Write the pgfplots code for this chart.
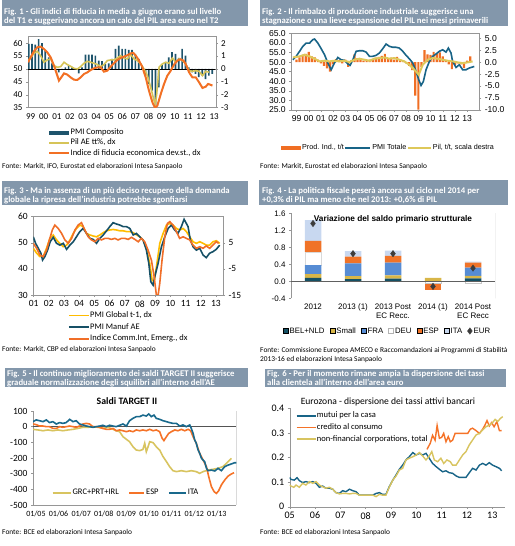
\documentclass[border=0pt]{standalone}
\usepackage{fontspec}
\setmainfont{Carlito}
\newfontfamily\arial{Liberation Sans}
\usepackage{pgfplots}
\pgfplotsset{compat=1.18}

\definecolor{titlebar}{RGB}{131,151,171}
\definecolor{axgray}{RGB}{150,150,150}
\definecolor{cA}{RGB}{30,84,108}
\definecolor{cAy}{RGB}{214,196,88}
\definecolor{cAo}{RGB}{242,112,36}
\definecolor{cBb}{RGB}{24,100,135}
\definecolor{cBo}{RGB}{240,110,35}
\definecolor{cBy}{RGB}{222,200,90}
\definecolor{cCy}{RGB}{255,188,0}
\definecolor{cCb}{RGB}{22,80,102}
\definecolor{cCo}{RGB}{240,110,40}
\definecolor{cDbel}{RGB}{20,80,100}
\definecolor{cDsml}{RGB}{216,182,72}
\definecolor{cDfra}{RGB}{86,140,212}
\definecolor{cDdeu}{RGB}{255,255,255}
\definecolor{cDesp}{RGB}{240,115,40}
\definecolor{cDita}{RGB}{200,216,240}
\definecolor{cDeur}{RGB}{60,60,60}
\definecolor{cEy}{RGB}{216,196,96}
\definecolor{cEo}{RGB}{245,115,40}
\definecolor{cEb}{RGB}{25,105,140}

\newcommand\tickf{\fontsize{9}{10}\selectfont}
\newcommand\legf{\fontsize{8.5}{9}\selectfont}
\newcommand\srcf{\fontsize{7.4}{8}\selectfont}
\newcommand\ttf{\fontsize{8.7}{9}\selectfont\bfseries}

\pgfplotsset{
  base/.style={scale only axis, anchor=south west,
    /pgf/number format/assume math mode=true,
    tick style={axgray, line width=0.4pt}, major tick length=2pt,
    tick align=outside,
    tick label style={font=\tickf},
    legend cell align=left,
    legend style={draw=none, fill=none, inner sep=0pt, outer sep=0pt,
      nodes={inner sep=0.6pt, text height=5.5pt, text depth=1.5pt}},
  },
  linelegend/.style={legend image code/.code={\draw[##1] (0pt,0pt) -- (#1,0pt);}},
  barlegend/.style={legend image code/.code={\fill[##1,draw=none] (0pt,-2pt) rectangle (#1,2pt);}},
  sqlegend/.style={legend image code/.code={\draw[##1] (0pt,-2.4pt) rectangle (4.8pt,2.4pt);}},
  marklegend/.style={legend image code/.code={\draw[##1] plot coordinates {(2.8pt,0pt)};}},
}
\tikzset{tt/.style={anchor=base west, inner sep=0pt, text=white, font=\ttf},
  src/.style={anchor=base west, inner sep=0pt, font=\srcf}}

\begin{document}
\begin{tikzpicture}[x=1pt,y=1pt]
\path[use as bounding box] (0,0) rectangle (514,546);

% ================= Fig. 1 =================
\fill[titlebar] (2,520) rectangle (248,546);
\node[tt] at (4,531.3) {Fig. 1 - Gli indici di fiducia in media a giugno erano sul livello};
\node[tt] at (4,522) {del T1 e suggerivano ancora un calo del PIL area euro nel T2};
\node[src] at (2,377) {Fonte: Markit, IFO, Eurostat ed elaborazioni Intesa Sanpaolo};

\begin{axis}[base, at={(28pt,438.3pt)}, width=187.7pt, height=71pt,
  xmin=1999.3, xmax=2013.62, ymin=35, ymax=62.5,
  ytick={35,40,...,60}, ytick pos=left, xtick pos=bottom,
  xtick={1999.5,2000.5,...,2013.5},
  xticklabels={99,00,01,02,03,04,05,06,07,08,09,10,11,12,13},
  x tick style={draw=none}, axis line style={axgray}]
\end{axis}

\begin{axis}[base, at={(28pt,438.3pt)}, width=187.7pt, height=71pt,
  xmin=1999.3, xmax=2013.62, ymin=-3, ymax=2.5,
  axis x line=none, axis y line*=right, ytick={-3,...,2},
  y axis line style={axgray},
  linelegend=20pt,
  legend style={at={(rel axis cs:0.1066,-0.293)}, anchor=north west, font=\legf,
    row sep=2.1pt}]
\addplot[ybar, bar width=1.7pt, fill=cA, draw=none, barlegend=20pt]
  table[x=t, y expr=(\thisrow{v}-50)/5] {
t v
1999.35 59.7
1999.60 59.7
1999.86 59.4
2000.11 61.6
2000.37 60.0
2000.62 57.1
2000.88 54.5
2001.13 52.2
2001.39 50.6
2001.64 48.7
2001.90 49.8
2002.15 50.6
2002.40 51.3
2002.66 50.6
2002.91 50.2
2003.17 48.3
2003.42 50.6
2003.68 55.6
2003.93 55.6
2004.19 55.6
2004.44 55.2
2004.69 53.2
2004.95 53.0
2005.20 51.9
2005.46 52.2
2005.71 53.9
2005.97 57.8
2006.22 59.0
2006.48 57.8
2006.73 57.8
2006.99 57.4
2007.24 57.4
2007.49 55.8
2007.75 53.9
2008.00 51.3
2008.26 47.4
2008.51 44.2
2008.77 41.6
2009.02 36.0
2009.28 42.9
2009.53 51.7
2009.79 52.6
2010.04 54.5
2010.29 56.5
2010.55 55.8
2010.80 54.3
2011.06 57.8
2011.31 55.2
2011.57 50.6
2011.82 48.7
2012.08 48.1
2012.33 46.8
2012.59 47.4
2012.84 46.1
2013.10 47.4
2013.35 48.1
};
\addlegendentry{PMI Composito}
\draw[black, line width=0.5pt] (axis cs:1999.3,0) -- (axis cs:2013.62,0);
\addplot[cAy, line width=1.6pt] table {
1999.30 0.65
1999.50 0.85
1999.75 1.21
2000.01 1.37
2000.26 1.03
2000.52 0.52
2000.77 0.70
2001.03 0.78
2001.28 0.26
2001.54 0.13
2001.79 0.18
2002.05 0.52
2002.30 0.34
2002.55 0.21
2002.81 0.05
2003.06 0.00
2003.32 0.18
2003.57 0.44
2003.83 0.59
2004.08 0.52
2004.34 0.44
2004.59 0.34
2004.84 0.18
2005.10 0.34
2005.35 0.65
2005.61 0.70
2005.86 0.70
2006.12 0.85
2006.37 1.03
2006.63 0.85
2006.88 0.78
2007.14 1.11
2007.39 0.78
2007.64 0.65
2007.90 0.39
2008.15 0.00
2008.41 -0.52
2008.66 -1.42
2008.92 -2.45
2009.02 -2.70
2009.12 -1.94
2009.30 0.13
2009.55 0.39
2009.81 0.52
2010.06 0.44
2010.32 0.85
2010.57 0.52
2010.83 0.78
2011.08 0.65
2011.33 0.39
2011.59 -0.13
2011.84 -0.18
2012.10 -0.13
2012.35 -0.18
2012.61 -0.52
2012.86 -0.18
2013.12 -0.26
};
\addlegendentry{Pil AE tt\%, dx}
\addplot[cAo, line width=2pt] table {
1999.30 0.52
1999.50 0.90
1999.75 1.37
2000.01 1.68
2000.26 1.73
2000.52 1.55
2000.77 1.29
2001.03 0.90
2001.28 0.26
2001.54 -0.52
2001.66 -0.90
2001.84 -0.65
2002.05 -0.34
2002.30 -0.44
2002.55 -0.65
2002.81 -0.83
2003.06 -0.85
2003.32 -0.65
2003.57 -0.39
2003.83 -0.26
2004.08 -0.08
2004.34 0.05
2004.59 0.13
2004.84 0.13
2005.10 -0.21
2005.35 -0.13
2005.61 0.18
2005.86 0.44
2006.12 0.70
2006.37 0.85
2006.63 0.96
2006.88 1.06
2007.14 1.21
2007.34 1.24
2007.52 1.03
2007.77 0.65
2008.03 0.13
2008.28 -0.65
2008.53 -1.68
2008.79 -2.58
2008.99 -3.00
2009.17 -2.84
2009.43 -1.94
2009.68 -1.16
2009.93 -0.52
2010.19 -0.13
2010.44 0.34
2010.70 0.65
2010.95 0.75
2011.16 0.65
2011.33 0.39
2011.59 -0.26
2011.84 -0.65
2012.10 -0.65
2012.35 -1.03
2012.61 -1.47
2012.86 -1.37
2013.04 -1.16
2013.19 -1.21
2013.37 -1.29
};
\addlegendentry{Indice di fiducia economica dev.st., dx}
\end{axis}

% ================= Fig. 2 =================
\fill[titlebar] (259.7,520) rectangle (508,546);
\node[tt] at (262,531.3) {Fig. 2 - Il rimbalzo di produzione industriale suggerisce una};
\node[tt] at (262,522) {stagnazione o una lieve espansione del PIL nei mesi primaverili};
\node[src] at (260,377) {Fonte: Markit, Eurostat ed elaborazioni Intesa Sanpaolo};

\begin{axis}[base, at={(291.3pt,436pt)}, width=188pt, height=76.7pt,
  tick label style={font=\arial\fontsize{8.6}{9}\selectfont},
  xmin=1998.57, xmax=2014.0, ymin=25, ymax=65,
  ytick={25,30,...,65}, ytick pos=left, xtick pos=bottom,
  yticklabel style={/pgf/number format/.cd, fixed, fixed zerofill, precision=1},
  xtick={1999,...,2013},
  xticklabels={99,00,01,02,03,04,05,06,07,08,09,10,11,12,13},
  axis line style={axgray}]
\end{axis}

\begin{axis}[base, at={(291.3pt,436pt)}, width=188pt, height=76.7pt,
  tick label style={font=\arial\fontsize{8.6}{9}\selectfont},
  xmin=1998.57, xmax=2014.0, ymin=-10, ymax=6,
  axis x line=none, axis y line*=right, ytick={-10,-7.5,...,5},
  yticklabel style={/pgf/number format/.cd, fixed, fixed zerofill, precision=1},
  y axis line style={axgray},
  legend columns=3,
  legend style={at={(rel axis cs:-0.055,-0.495)}, anchor=west,
    font=\arial\fontsize{7.2}{8}\selectfont,
    /tikz/every odd column/.append style={column sep=0.5pt}}]
\addplot[ybar, bar width=2.2pt, fill=cBo, draw=none, barlegend=20pt] table {
1999.00 0.5
1999.25 1.0
1999.50 1.5
1999.75 1.7
2000.00 2.1
2000.25 1.2
2000.50 1.0
2000.75 0.5
2001.00 -0.3
2001.25 -0.8
2001.50 -1.3
2001.75 -2.0
2002.00 -0.5
2002.25 0.6
2002.50 0.4
2002.75 -0.3
2003.00 0.5
2003.25 -1.0
2003.50 0.4
2003.75 1.6
2004.00 0.8
2004.25 0.5
2004.50 0.3
2004.75 0.2
2005.00 0.5
2005.25 0.6
2005.50 0.9
2005.75 1.1
2006.00 1.3
2006.25 1.7
2006.50 0.8
2006.75 0.9
2007.00 0.5
2007.25 1.1
2007.50 0.6
2007.75 0.3
2008.00 -0.3
2008.25 -0.8
2008.50 -1.7
2008.75 -7.0
2009.00 -9.9
2009.25 -1.0
2009.50 2.5
2009.75 1.6
2010.00 1.5
2010.25 2.1
2010.50 1.7
2010.75 2.0
2011.00 1.2
2011.25 0.2
2011.50 -0.5
2011.75 -1.5
2012.00 -0.6
2012.25 -0.3
2012.50 -0.5
2012.75 -1.2
2013.00 0.3
2013.25 1.2
};
\addlegendentry{Prod. Ind., t/t}
\addplot[cBb, line width=1.6pt, linelegend=25pt]
  table[x=t, y expr=(\thisrow{v}-50)*0.4] {
t v
1998.70 51.2
1998.97 53.0
1999.25 55.6
1999.52 58.2
1999.79 59.9
2000.07 59.9
2000.34 61.7
2000.48 62.0
2000.75 59.9
2001.02 57.0
2001.30 53.8
2001.57 49.5
2001.84 46.0
2002.11 49.5
2002.39 52.4
2002.66 51.2
2002.93 50.9
2003.21 49.0
2003.40 48.3
2003.62 51.2
2003.89 55.6
2004.16 55.9
2004.44 55.9
2004.71 55.2
2004.98 53.0
2005.26 53.0
2005.53 53.5
2005.80 54.7
2006.08 57.0
2006.35 59.4
2006.62 58.2
2006.90 57.7
2007.17 57.7
2007.44 57.3
2007.72 55.6
2007.99 53.5
2008.26 51.7
2008.54 49.5
2008.81 45.1
2009.03 40.8
2009.22 37.8
2009.41 39.9
2009.63 46.0
2009.90 50.3
2010.17 53.0
2010.45 54.2
2010.72 55.6
2010.99 56.4
2011.27 55.2
2011.46 57.3
2011.68 54.7
2011.81 50.3
2012.09 47.2
2012.36 48.6
2012.63 46.0
2012.91 46.0
2013.18 46.9
2013.59 47.7
};
\addlegendentry{PMI Totale}
\addplot[cBy, line width=2pt, linelegend=23pt] table {
1998.70 0.97
1999.25 1.18
1999.66 1.53
2000.07 1.18
2000.48 0.70
2000.89 0.14
2001.30 0.28
2001.70 0.14
2002.11 0.28
2002.52 0.14
2002.93 0.28
2003.34 0.00
2003.75 0.49
2004.16 0.70
2004.57 0.49
2004.98 0.28
2005.39 0.70
2005.80 0.83
2006.21 0.97
2006.62 0.70
2007.03 0.83
2007.44 0.49
2007.85 0.14
2008.26 -0.56
2008.67 -1.60
2009.03 -2.64
2009.36 -0.56
2009.77 0.49
2010.17 0.83
2010.58 0.70
2010.99 0.49
2011.40 0.28
2011.81 0.14
2012.22 -0.07
2012.63 -0.21
2013.04 -0.07
2013.45 0.14
};
\addlegendentry{Pil, t/t, scala destra}
\end{axis}

% ================= Fig. 3 =================
\fill[titlebar] (2,341) rectangle (248,365.3);
\node[tt] at (4,352.7) {Fig. 3 - Ma in assenza di un più deciso recupero della domanda};
\node[tt] at (4,343.3) {globale la ripresa dell’industria potrebbe sgonfiarsi};
\node[src] at (2,194) {Fonte: Markit, CBP ed elaborazioni Intesa Sanpaolo};

\begin{axis}[base, at={(33.3pt,251pt)}, width=189.7pt, height=78.3pt,
  tick label style={font=\fontsize{9.5}{10}\selectfont},
  xmin=2000.98, xmax=2013.46, ymin=30, ymax=60,
  ytick={30,40,50,60}, ytick pos=left, xtick pos=bottom,
  xtick={2001,...,2013},
  xticklabels={01,02,03,04,05,06,07,08,09,10,11,12,13},
  axis line style={axgray},
  linelegend=20pt,
  legend style={at={(rel axis cs:0.183,-0.21)}, anchor=north west, font=\legf,
    row sep=3.4pt}]
\addplot[cCy, line width=1.6pt] table {
2000.98 47.9
2001.20 46.0
2001.42 44.7
2001.63 44.7
2001.85 47.9
2002.07 51.7
2002.29 53.0
2002.51 51.1
2002.73 49.8
2002.95 48.5
2003.17 49.1
2003.39 51.1
2003.61 53.6
2003.82 55.5
2004.04 56.8
2004.26 56.2
2004.48 53.6
2004.70 53.0
2004.92 52.6
2005.14 52.3
2005.36 53.0
2005.58 53.9
2005.80 54.6
2006.01 54.9
2006.23 55.1
2006.45 54.9
2006.67 54.6
2006.89 54.6
2007.11 54.3
2007.33 54.3
2007.55 53.9
2007.77 53.0
2007.98 52.3
2008.20 51.1
2008.42 47.9
2008.64 42.1
2008.80 35.7
2008.93 35.1
2009.08 40.8
2009.30 49.8
2009.52 53.6
2009.74 56.8
2009.96 57.4
2010.17 56.8
2010.39 55.5
2010.61 54.9
2010.83 55.5
2011.05 54.3
2011.27 52.3
2011.49 50.4
2011.71 49.8
2011.93 50.4
2012.15 49.8
2012.36 49.1
2012.58 49.1
2012.80 50.4
2013.02 50.8
2013.24 49.8
};
\addlegendentry{PMI Global t-1, dx}
\addplot[cCb, line width=1.6pt] table {
2000.98 52.3
2001.13 49.8
2001.31 47.9
2001.48 46.0
2001.59 43.4
2001.74 44.7
2001.92 47.2
2002.09 50.4
2002.29 52.1
2002.51 49.8
2002.73 49.1
2002.95 49.8
2003.17 47.5
2003.39 49.1
2003.61 50.4
2003.82 52.3
2004.04 54.3
2004.26 55.5
2004.48 53.6
2004.70 51.7
2004.92 51.3
2005.14 49.8
2005.36 51.7
2005.58 53.0
2005.80 54.6
2006.01 56.2
2006.23 57.7
2006.45 57.2
2006.67 56.8
2006.89 56.2
2007.11 56.2
2007.33 55.5
2007.55 53.0
2007.77 53.6
2007.98 52.3
2008.20 51.1
2008.42 47.2
2008.58 42.1
2008.71 35.1
2008.86 33.8
2008.97 37.0
2009.19 42.1
2009.41 48.5
2009.63 52.3
2009.85 55.5
2010.07 56.8
2010.28 54.9
2010.50 53.6
2010.72 56.2
2010.90 59.0
2011.05 57.4
2011.16 56.2
2011.31 51.1
2011.49 48.5
2011.71 47.2
2011.93 47.9
2012.15 45.3
2012.36 44.3
2012.58 46.0
2012.80 46.6
2013.02 47.5
2013.24 49.1
};
\addlegendentry{PMI Manuf AE}
\addplot[cCo, line width=1.6pt] table {
2000.98 49.8
2001.20 47.9
2001.42 45.3
2001.63 44.7
2001.85 47.2
2002.07 51.7
2002.23 54.9
2002.40 56.8
2002.62 55.5
2002.84 53.6
2003.06 51.1
2003.28 49.8
2003.50 51.7
2003.72 54.9
2003.93 56.8
2004.15 57.7
2004.37 54.9
2004.59 52.3
2004.81 51.1
2005.03 50.4
2005.25 51.7
2005.47 51.1
2005.69 51.7
2005.90 51.7
2006.12 51.3
2006.34 51.7
2006.56 51.1
2006.78 51.7
2007.00 51.7
2007.22 51.3
2007.44 52.1
2007.66 51.3
2007.88 50.4
2008.09 51.7
2008.31 50.4
2008.53 47.2
2008.75 43.4
2008.93 37.0
2009.08 29.8
2009.19 29.8
2009.30 34.5
2009.45 43.4
2009.63 52.3
2009.80 57.4
2009.96 58.1
2010.17 56.8
2010.39 54.3
2010.61 51.7
2010.83 52.3
2011.05 51.7
2011.27 51.1
2011.49 49.1
2011.71 47.9
2011.93 48.5
2012.15 47.9
2012.36 48.8
2012.58 47.9
2012.80 49.1
2013.02 50.4
2013.17 49.8
};
\addlegendentry{Indice Comm.Int, Emerg., dx}
\end{axis}

\begin{axis}[base, at={(33.3pt,251pt)}, width=189.7pt, height=78.3pt,
  tick label style={font=\fontsize{9.5}{10}\selectfont},
  xmin=2000.98, xmax=2013.46, ymin=-15, ymax=15,
  axis x line=none, axis y line*=right, ytick={-15,-5,5},
  y axis line style={axgray}]
\end{axis}

% ================= Fig. 4 =================
\fill[titlebar] (259,341) rectangle (508,366);
\node[tt] at (262,352) {Fig. 4 - La politica fiscale peserà ancora sul ciclo nel 2014 per};
\node[tt] at (262,343.3) {+0,3\% di PIL ma meno che nel 2013: +0,6\% di PIL};
\node[src] at (260,193) {Fonte: Commissione Europea AMECO e Raccomandazioni ai Programmi di Stabilità};
\node[src] at (260,184.5) {2013-16 ed elaborazioni Intesa Sanpaolo};

% positive contributions
\begin{axis}[base, at={(291pt,247.7pt)}, width=204pt, height=85pt,
  xmin=-0.55, xmax=4.55, ymin=-0.4, ymax=1.6, hide axis,
  ybar stacked, bar width=16.5pt]
\addplot[fill=cDbel, draw=none] coordinates {(0,0.08) (1,0.05) (2,0.06) (3,0) (4,0.07)};
\addplot[fill=cDsml, draw=none] coordinates {(0,0.09) (1,0.07) (2,0.08) (3,0.08) (4,0.06)};
\addplot[fill=cDfra, draw=none] coordinates {(0,0.21) (1,0.30) (2,0.30) (3,0) (4,0.19)};
\addplot[fill=cDdeu, draw=gray!30, line width=0.4pt] coordinates {(0,0.31) (1,0) (2,0) (3,0) (4,0)};
\addplot[fill=cDesp, draw=none] coordinates {(0,0.26) (1,0.16) (2,0.16) (3,0) (4,0.12)};
\addplot[fill=cDita, draw=none] coordinates {(0,0.49) (1,0.13) (2,0.12) (3,0) (4,0.02)};
\end{axis}

% negative contributions
\begin{axis}[base, at={(291pt,247.7pt)}, width=204pt, height=85pt,
  xmin=-0.55, xmax=4.55, ymin=-0.4, ymax=1.6, hide axis,
  ybar stacked, bar width=16.5pt]
\addplot[fill=cDdeu, draw=gray!45, line width=0.4pt] coordinates {(0,0) (1,0) (2,0) (3,-0.05) (4,-0.05)};
\addplot[fill=cDesp, draw=none] coordinates {(0,0) (1,0) (2,0) (3,-0.16) (4,0)};
\end{axis}

\begin{axis}[base, at={(291pt,247.7pt)}, width=204pt, height=85pt,
  xmin=-0.55, xmax=4.55, ymin=-0.4, ymax=1.6,
  tick label style={font=\arial\fontsize{8}{9.2}\selectfont},
  axis x line*=bottom, axis y line*=left,
  x axis line style={draw=none}, y axis line style={axgray},
  ytick={-0.4,0,0.4,0.8,1.2,1.6},
  yticklabel style={/pgf/number format/.cd, fixed, fixed zerofill, precision=1},
  xtick={0,...,4}, x tick style={draw=none},
  xticklabels={2012,2013 (1),{2013 Post\\EC Recc.},2014 (1),{2014 Post\\EC Recc}},
  xticklabel style={align=center},
  legend columns=7,
  legend style={at={(rel axis cs:-0.039,-0.385)}, anchor=west,
    font=\arial\fontsize{7.8}{8}\selectfont,
    /tikz/every odd column/.append style={column sep=0.8pt},
    /tikz/every even column/.append style={column sep=4.6pt}}]
\draw[axgray] (rel axis cs:1,0) -- (rel axis cs:1,1);
\draw[gray!75!black, line width=1pt] (axis cs:-0.55,0) -- (axis cs:4.55,0);
\node[anchor=base, font=\arial\fontsize{8.3}{9}\selectfont\bfseries] at (axis cs:2,1.40)
  {Variazione del saldo primario strutturale};
\addlegendimage{sqlegend, fill=cDbel, draw=none}
\addlegendimage{sqlegend, fill=cDsml, draw=none}
\addlegendimage{sqlegend, fill=cDfra, draw=none}
\addlegendimage{sqlegend, fill=white, draw=gray!60}
\addlegendimage{sqlegend, fill=cDesp, draw=none}
\addlegendimage{sqlegend, fill=cDita, draw=none}
\addplot[only marks, mark=diamond*, mark size=3.2pt, cDeur, marklegend]
  coordinates {(0,1.36) (1,0.65) (2,0.65) (3,-0.12) (4,0.31)};
\legend{BEL+NLD,Small,FRA,DEU,ESP,ITA,EUR}
\end{axis}

% ================= Fig. 5 =================
\fill[titlebar] (5,158.7) rectangle (248,177.7);
\node[tt] at (7,169.3) {Fig. 5 - Il continuo miglioramento dei saldi TARGET II suggerisce};
\node[tt] at (7,160.7) {graduale normalizzazione degli squilibri all’interno dell’AE};
\node[anchor=base, inner sep=0pt, font=\fontsize{9.8}{10}\selectfont\bfseries] at (127,141) {Saldi TARGET II};
\node[src] at (2,12) {Fonte: BCE ed elaborazioni Intesa Sanpaolo};

\begin{axis}[base, at={(33pt,41pt)}, width=203.3pt, height=94pt,
  xmin=2004.87, xmax=2013.86, ymin=-500, ymax=100,
  yticklabel style={font=\fontsize{9.5}{10}\selectfont},
  xticklabel style={font=\fontsize{8}{9}\selectfont},
  ytick={-500,-400,...,100}, xtick={2005,...,2013},
  xticklabels={01/05,01/06,01/07,01/08,01/09,01/10,01/11,01/12,01/13},
  axis x line*=bottom, axis y line*=left, axis line style={axgray,-},
  x tick style={draw=none},
  linelegend=18pt,
  legend columns=3,
  legend style={at={(rel axis cs:0.093,0.128)}, anchor=west, font=\legf,
    /tikz/every odd column/.append style={column sep=0.5pt},
    /tikz/every even column/.append style={column sep=9pt}}]
\draw[axgray] (rel axis cs:1,0) -- (rel axis cs:1,1);
\draw[gray!65!black, line width=1pt] (axis cs:2004.87,0) -- (axis cs:2013.86,0);
\addplot[cEy, line width=1.6pt] table {
2004.87 -17
2005.09 -21
2005.31 -26
2005.53 -21
2005.75 -26
2005.97 -21
2006.19 -26
2006.42 -21
2006.64 -17
2006.86 -11
2007.08 -4
2007.30 -4
2007.52 0
2007.74 -4
2007.96 -11
2008.19 -4
2008.41 -17
2008.55 -26
2008.70 -32
2008.85 -64
2009.00 -81
2009.14 -96
2009.29 -128
2009.44 -149
2009.59 -153
2009.73 -145
2009.81 -106
2009.88 -160
2009.96 -128
2010.03 -96
2010.18 -102
2010.32 -128
2010.47 -149
2010.62 -191
2010.77 -223
2010.91 -255
2011.06 -281
2011.21 -287
2011.43 -281
2011.65 -287
2011.87 -281
2012.09 -287
2012.24 -298
2012.39 -287
2012.61 -277
2012.83 -272
2013.05 -266
2013.27 -255
2013.50 -223
2013.64 -202
};
\addlegendentry{GRC+PRT+IRL}
\addplot[cEo, line width=1.6pt, linelegend=15pt] table {
2004.87 17
2005.01 13
2005.16 4
2005.31 4
2005.46 0
2005.60 0
2005.75 -11
2005.90 -11
2006.05 0
2006.19 -4
2006.34 0
2006.49 4
2006.64 0
2006.78 -4
2006.93 4
2007.08 17
2007.23 21
2007.37 17
2007.52 0
2007.67 0
2007.82 -4
2007.96 -11
2008.11 -17
2008.26 -17
2008.41 -11
2008.55 -26
2008.70 -21
2008.85 -26
2009.00 -32
2009.14 -26
2009.29 -32
2009.44 -21
2009.59 -26
2009.73 -21
2009.88 -26
2010.03 -17
2010.18 -26
2010.32 -21
2010.47 -32
2010.58 -74
2010.66 -89
2010.77 -64
2010.87 -43
2010.99 -32
2011.14 -21
2011.28 -26
2011.43 -17
2011.58 -26
2011.73 -17
2011.84 -26
2011.95 -64
2012.09 -106
2012.24 -170
2012.39 -213
2012.54 -255
2012.64 -319
2012.76 -383
2012.88 -415
2012.98 -426
2013.08 -409
2013.20 -372
2013.35 -340
2013.50 -315
2013.64 -302
2013.76 -294
};
\addlegendentry{ESP}
\addplot[cEb, line width=1.6pt, linelegend=17pt] table {
2004.87 32
2005.01 43
2005.16 38
2005.31 32
2005.46 43
2005.60 26
2005.75 32
2005.90 17
2006.05 26
2006.19 21
2006.34 26
2006.49 47
2006.64 32
2006.78 38
2006.93 17
2007.08 11
2007.23 4
2007.37 0
2007.52 -4
2007.67 0
2007.82 4
2007.96 9
2008.11 0
2008.26 9
2008.41 4
2008.55 0
2008.70 9
2008.85 17
2009.00 4
2009.14 38
2009.29 53
2009.44 64
2009.59 64
2009.73 74
2009.88 68
2009.99 81
2010.10 64
2010.22 74
2010.32 53
2010.47 47
2010.62 38
2010.77 32
2010.91 26
2011.06 21
2011.21 21
2011.36 4
2011.50 11
2011.65 0
2011.80 11
2011.87 -11
2011.95 -43
2012.02 -85
2012.09 -106
2012.17 -149
2012.24 -170
2012.32 -202
2012.39 -213
2012.46 -223
2012.54 -266
2012.61 -281
2012.76 -277
2012.91 -283
2013.05 -266
2013.20 -281
2013.35 -255
2013.50 -245
2013.64 -238
2013.79 -230
2013.86 -230
};
\addlegendentry{ITA}
\end{axis}

% ================= Fig. 6 =================
\fill[titlebar] (264.5,158.7) rectangle (506,176.7);
\node[tt] at (267,169.3) {Fig. 6 - Per il momento rimane ampia la dispersione dei tassi};
\node[tt] at (267,160.7) {alla clientela all’interno dell’area euro};
\node[anchor=base, inner sep=0pt, font=\fontsize{9.6}{10}\selectfont] at (388,141) {Eurozona - dispersione dei tassi attivi bancari};
\node[src] at (260,12) {Fonte: BCE ed elaborazioni Intesa Sanpaolo};

\begin{axis}[base, at={(289.7pt,39.3pt)}, width=215.3pt, height=98.4pt,
  xmin=2005, xmax=2013.5, ymin=0, ymax=0.4,
  tick label style={font=\fontsize{10}{10}\selectfont},
  ytick={0,0.1,0.2,0.3,0.4}, yticklabels={0,0.1,0.2,0.3,0.4},
  xtick={2005,...,2013},
  xticklabels={05,06,07,08,09,10,11,12,13},
  axis x line*=bottom, axis y line*=left, axis line style={axgray,-},
  linelegend=19pt,
  legend style={at={(rel axis cs:0.029,0.965)}, anchor=north west, font=\legf,
    row sep=3.4pt}]
\draw[axgray] (rel axis cs:1,0) -- (rel axis cs:1,1);
\addplot[cBb, line width=1.4pt] table {
2005.00 0.119
2005.05 0.111
2005.18 0.108
2005.29 0.118
2005.38 0.106
2005.51 0.098
2005.64 0.102
2005.78 0.098
2005.91 0.102
2006.04 0.095
2006.17 0.079
2006.30 0.084
2006.43 0.075
2006.57 0.075
2006.70 0.071
2006.83 0.057
2006.96 0.054
2007.09 0.065
2007.22 0.061
2007.36 0.071
2007.49 0.065
2007.62 0.061
2007.75 0.047
2007.88 0.047
2008.01 0.047
2008.14 0.047
2008.28 0.047
2008.41 0.054
2008.54 0.057
2008.67 0.050
2008.80 0.050
2008.93 0.081
2009.07 0.108
2009.20 0.129
2009.33 0.152
2009.46 0.169
2009.59 0.190
2009.72 0.203
2009.86 0.220
2009.99 0.210
2010.12 0.217
2010.25 0.210
2010.38 0.217
2010.51 0.197
2010.64 0.176
2010.78 0.163
2010.91 0.152
2011.04 0.142
2011.17 0.146
2011.30 0.138
2011.43 0.136
2011.57 0.125
2011.70 0.119
2011.83 0.119
2011.96 0.119
2012.09 0.138
2012.22 0.156
2012.36 0.149
2012.49 0.169
2012.62 0.176
2012.75 0.169
2012.88 0.179
2013.01 0.169
2013.14 0.163
2013.28 0.156
2013.37 0.146
};
\addlegendentry{mutui per la casa}
\addplot[cEo, line width=1.4pt] table {
2010.42 0.233
2010.55 0.258
2010.64 0.290
2010.74 0.270
2010.82 0.330
2010.91 0.278
2011.00 0.282
2011.08 0.298
2011.17 0.264
2011.26 0.285
2011.34 0.264
2011.43 0.270
2011.53 0.298
2011.63 0.298
2011.76 0.298
2012.03 0.298
2012.13 0.315
2012.22 0.319
2012.36 0.309
2012.49 0.298
2012.62 0.315
2012.71 0.332
2012.79 0.350
2012.88 0.328
2012.97 0.342
2013.07 0.325
2013.18 0.346
2013.28 0.309
2013.37 0.309
};
\addlegendentry{credito al consumo}
\addplot[cEy, line width=1.4pt] table {
2005.00 0.088
2005.05 0.084
2005.16 0.079
2005.25 0.088
2005.38 0.079
2005.51 0.095
2005.64 0.088
2005.78 0.102
2005.91 0.095
2006.04 0.102
2006.17 0.088
2006.30 0.081
2006.43 0.075
2006.57 0.079
2006.70 0.071
2006.83 0.057
2006.96 0.052
2007.09 0.054
2007.22 0.054
2007.36 0.052
2007.49 0.054
2007.62 0.054
2007.75 0.047
2007.88 0.047
2008.01 0.047
2008.14 0.047
2008.28 0.047
2008.41 0.041
2008.54 0.050
2008.67 0.047
2008.80 0.047
2008.93 0.079
2009.07 0.108
2009.20 0.125
2009.33 0.149
2009.46 0.156
2009.59 0.190
2009.72 0.197
2009.86 0.203
2009.99 0.210
2010.12 0.220
2010.25 0.206
2010.38 0.190
2010.51 0.206
2010.61 0.224
2010.71 0.190
2010.84 0.183
2010.97 0.197
2011.08 0.176
2011.21 0.190
2011.34 0.183
2011.43 0.169
2011.57 0.169
2011.70 0.190
2011.83 0.210
2011.96 0.224
2012.09 0.251
2012.22 0.271
2012.36 0.292
2012.49 0.298
2012.62 0.312
2012.75 0.325
2012.88 0.332
2013.01 0.342
2013.11 0.355
2013.21 0.346
2013.32 0.359
2013.41 0.366
};
\addlegendentry{non-financial corporations, total}
\end{axis}

\end{tikzpicture}
\end{document}
